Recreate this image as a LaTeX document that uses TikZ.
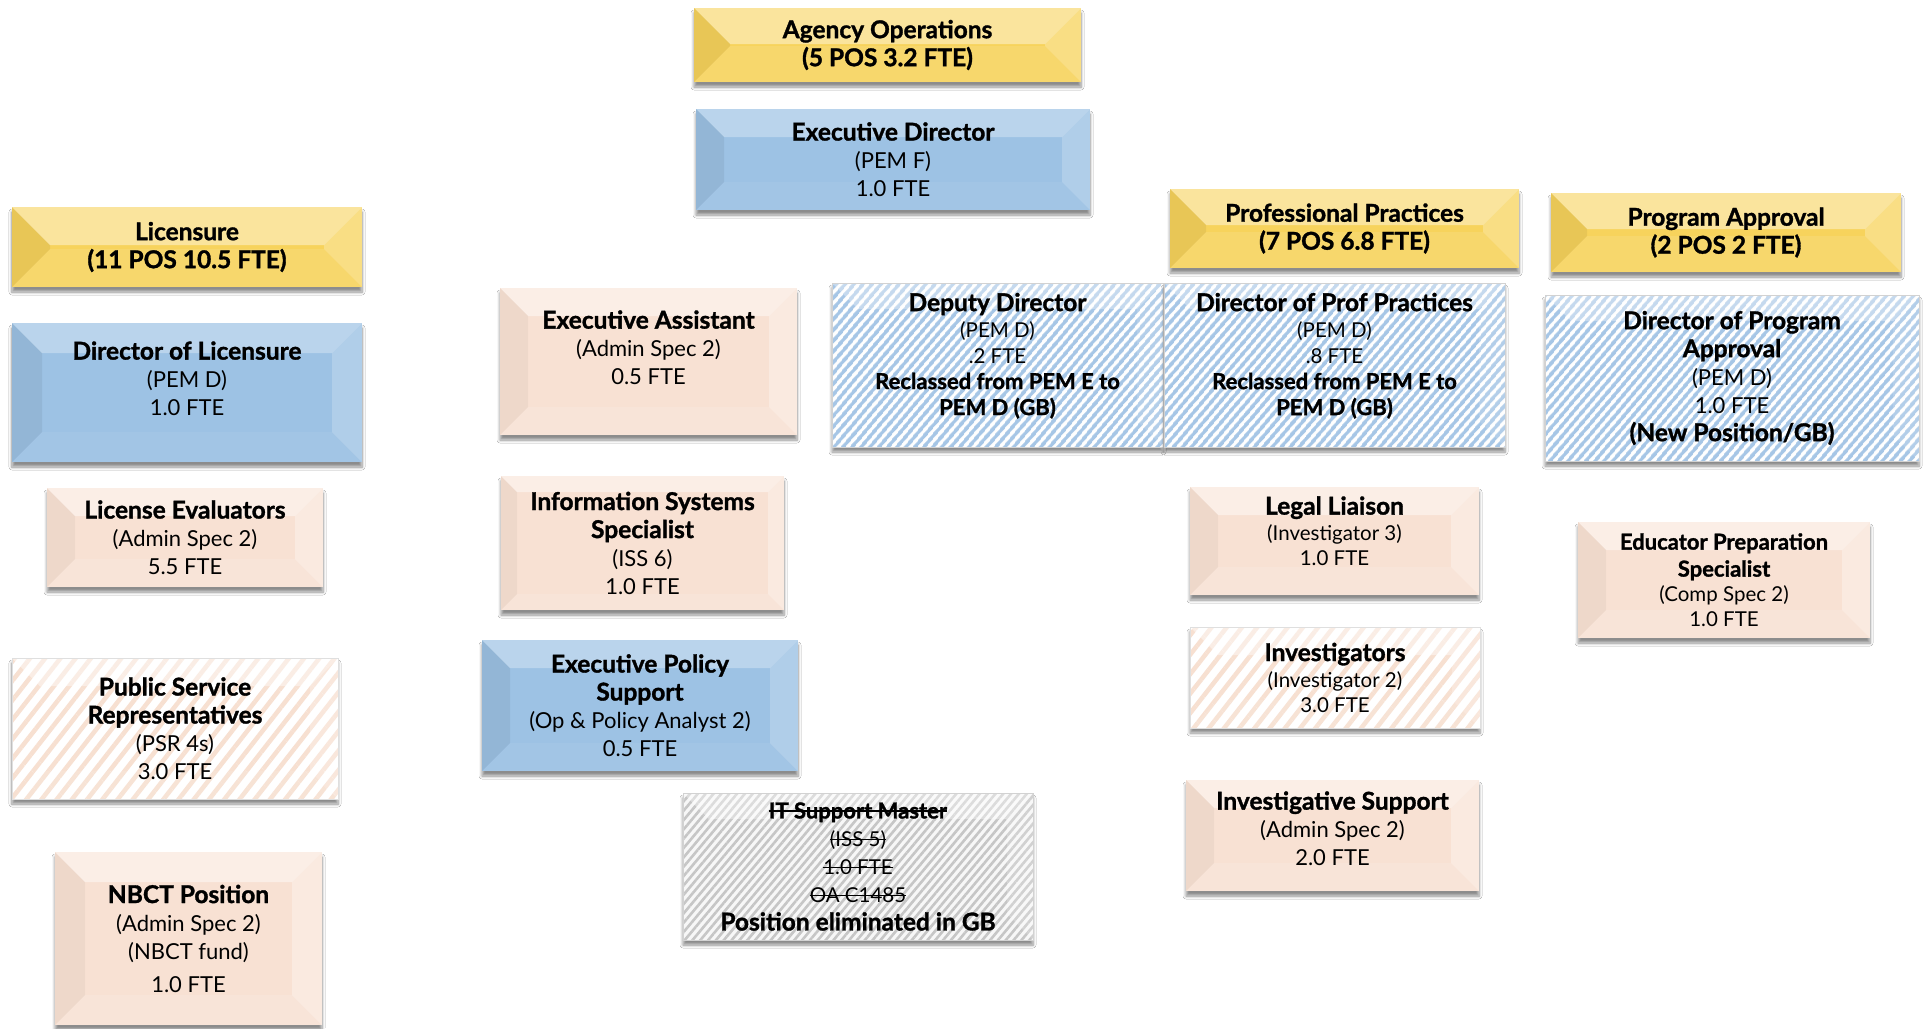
\documentclass[tikz,border=0pt]{standalone}
\usepackage{fontspec}
\setmainfont{Lato}[BoldFeatures={FakeBold=1.3}]
\usetikzlibrary{patterns.meta,shadows.blur}

\definecolor{goldbase}{HTML}{F7D35C}
\definecolor{bluebase}{HTML}{9DC2E4}
\definecolor{peachbase}{HTML}{F8E1D3}
\definecolor{hatchblue}{HTML}{A6C6E6}
\definecolor{hatchpeach}{HTML}{F7E0D1}
\definecolor{hatchgray}{HTML}{C6C6C6}

% bold heading line and smaller detail lines
\newcommand\hd[1]{{\fontsize{24.5}{28}\selectfont\bfseries #1}}
\newcommand\sm[1]{{\fontsize{20.5}{25}\selectfont #1}}
\newcommand\smb[1]{{\fontsize{22}{25}\selectfont\bfseries #1}}
% struck-through text
\newsavebox\strikebox
\newcommand\strk[1]{\sbox\strikebox{#1}\rlap{\raisebox{0.3em}{\rule{\wd\strikebox}{0.07em}}}\usebox\strikebox}

% bevel facets: inset, top, left(dark), right, bottom opacities
\newcommand\bevelfacets[5]{%
  \coordinate (bnw) at (path picture bounding box.north west);
  \coordinate (bne) at (path picture bounding box.north east);
  \coordinate (bsw) at (path picture bounding box.south west);
  \coordinate (bse) at (path picture bounding box.south east);
  \fill[white,opacity=#2] (bnw) -- (bne) -- ([shift={(-#1,-#1)}]bne) -- ([shift={(#1,-#1)}]bnw) -- cycle;
  \fill[black,opacity=#3] (bnw) -- ([shift={(#1,-#1)}]bnw) -- ([shift={(#1,#1)}]bsw) -- (bsw) -- cycle;
  \fill[white,opacity=#4] (bne) -- (bse) -- ([shift={(-#1,#1)}]bse) -- ([shift={(-#1,-#1)}]bne) -- cycle;
  \fill[white,opacity=#5] (bsw) -- (bse) -- ([shift={(-#1,#1)}]bse) -- ([shift={(#1,#1)}]bsw) -- cycle;
}
\newcommand\hatchfill[4]{% distance, line width, colour, angle
  \fill[pattern={Lines[angle=#4,distance=#1,line width=#2]}, pattern color=#3]
    (path picture bounding box.south west) rectangle (path picture bounding box.north east);
}

\tikzset{
  card/.style={rectangle, inner sep=0pt, align=center, text=black,
    font=\fontsize{22}{28}\selectfont,
    blur shadow={shadow xshift=0pt, shadow yshift=-5pt, shadow opacity=45,
      shadow blur steps=6, shadow blur radius=3pt}},
  gold/.style={card, fill=goldbase, font=\fontsize{24.5}{28}\selectfont\bfseries,
    path picture={\bevelfacets{#1}{.40}{.06}{.25}{.10}}},
  blue/.style={card, fill=bluebase, path picture={\bevelfacets{#1}{.30}{.06}{.20}{.06}}},
  peach/.style={card, fill=peachbase, path picture={\bevelfacets{#1}{.45}{.04}{.30}{.12}}},
  bluehatch/.style={card, fill=white, draw=gray!35, line width=0.6pt,
    path picture={\hatchfill{6.5pt}{3.8pt}{hatchblue}{50}
      \bevelfacets{#1}{.35}{0}{.15}{0}
      \draw[densely dashed, gray!60, line width=0.8pt] (path picture bounding box.north west) -- (path picture bounding box.north east);}},
  peachhatch/.style={card, fill=white, draw=gray!25, line width=0.6pt,
    path picture={\hatchfill{12pt}{4.5pt}{hatchpeach}{52}
      \bevelfacets{#1}{.45}{0}{.25}{.1}}},
  grayhatch/.style={card, fill=gray!6, draw=gray!35, line width=0.6pt,
    path picture={\hatchfill{6pt}{2.6pt}{hatchgray}{50}
      \bevelfacets{#1}{.40}{0}{.2}{0}
      \draw[densely dashed, gray!60, line width=0.8pt] (path picture bounding box.north west) -- (path picture bounding box.north east);}},
}

% name, left, top, right, bottom, style, text (pixel-like units, y downward)
\newcommand\card[7]{%
  \node[#6, minimum width={#4pt-#2pt}, minimum height={#5pt-#3pt}] (#1)
    at ({(#2+#4)/2},{(#3+#5)/2}) {#7};}

\begin{document}
\begin{tikzpicture}[x=1pt,y=-1pt]
\fill[white] (0,0) rectangle (1929,1028);
\useasboundingbox (0,0) rectangle (1929,1028);

% top of the agency
\card{agency}{694}{8}{1081}{82}{gold=36pt}{Agency Operations\\(5 POS 3.2 FTE)}
\card{execdir}{696}{109}{1090}{210}{blue=28pt}{\hd{Executive Director}\\(PEM F)\\1.0 FTE}

% licensure column
\card{lic}{12}{207}{362}{287}{gold=38pt}{Licensure\\(11 POS 10.5 FTE)}
\card{dirlic}{12}{323}{362}{462}{blue=30pt}{\hd{Director of Licensure}\\(PEM D)\\1.0 FTE\\\mbox{}}
\card{liceval}{47}{488}{323}{587}{peach=28pt}{\hd{License Evaluators}\\(Admin Spec 2)\\5.5 FTE}
\card{psr}{12}{658}{338}{799}{peachhatch=28pt}{\hd{Public Service}\\\hd{Representatives}\\(PSR 4s)\\3.0 FTE}
\card{nbct}{55}{852}{322}{1025}{peach=30pt}{\hd{NBCT Position}\\(Admin Spec 2)\\(NBCT fund)\\[5pt]1.0 FTE}

% executive office staff
\card{execasst}{500}{288}{797}{435}{peach=28pt}{\hd{Executive Assistant}\\(Admin Spec 2)\\0.5 FTE\\\mbox{}}
\card{iss}{501}{476}{784}{610}{peach=16pt}{\hd{Information Systems}\\\hd{Specialist}\\(ISS 6)\\1.0 FTE}
\card{eps}{482}{640}{798}{771}{blue=28pt}{\hd{Executive Policy}\\\hd{Support}\\(Op \& Policy Analyst 2)\\0.5 FTE}
\card{itsm}{683}{793}{1033}{940}{grayhatch=26pt}{\smb{\strk{IT Support Master}}\\\sm{\strk{(ISS 5)}}\\\sm{\strk{1.0 FTE}}\\\sm{\strk{OA C1485}}\\\hd{Position eliminated in GB}}
\card{deputy}{832}{283}{1163}{447}{bluehatch=26pt}{\hd{Deputy Director}\\[-2pt]\sm{(PEM D)}\\[-2pt]\sm{.2 FTE}\\[-2pt]\smb{Reclassed from PEM E to}\\[-2pt]\smb{PEM D (GB)}\\[-6pt]\mbox{}}

% professional practices
\card{profprac}{1170}{189}{1519}{268}{gold=36pt}{Professional Practices\\(7 POS 6.8 FTE)}
\card{dirpp}{1164}{283}{1505}{447}{bluehatch=26pt}{\hd{Director of Prof Practices}\\[-2pt]\sm{(PEM D)}\\[-2pt]\sm{.8 FTE}\\[-2pt]\smb{Reclassed from PEM E to}\\[-2pt]\smb{PEM D (GB)}\\[-6pt]\mbox{}}
\card{legal}{1190}{487}{1479}{595}{peach=28pt}{\hd{Legal Liaison}\\[-2pt]\sm{(Investigator 3)}\\[-3pt]\sm{1.0 FTE}\\[-8pt]\mbox{}}
\card{invest}{1190}{627}{1480}{728}{peachhatch=28pt}{\hd{Investigators}\\[-2pt]\sm{(Investigator 2)}\\[-3pt]\sm{3.0 FTE}}
\card{invsupp}{1186}{780}{1479}{891}{peach=28pt}{\hd{Investigative Support}\\(Admin Spec 2)\\2.0 FTE\\[-14pt]\mbox{}}

% program approval
\card{progapp}{1551}{193}{1901}{272}{gold=36pt}{Program Approval\\(2 POS 2 FTE)}
\card{dirpa}{1545}{295}{1919}{461}{bluehatch=26pt}{\hd{Director of Program}\\\hd{Approval}\\(PEM D)\\1.0 FTE\\\hd{(New Position/GB)}}
\card{edprep}{1578}{522}{1870}{638}{peach=28pt}{\smb{Educator Preparation}\\[-1pt]\smb{Specialist}\\[-3pt]\sm{(Comp Spec 2)}\\[-3pt]\sm{1.0 FTE}}
\end{tikzpicture}
\end{document}
